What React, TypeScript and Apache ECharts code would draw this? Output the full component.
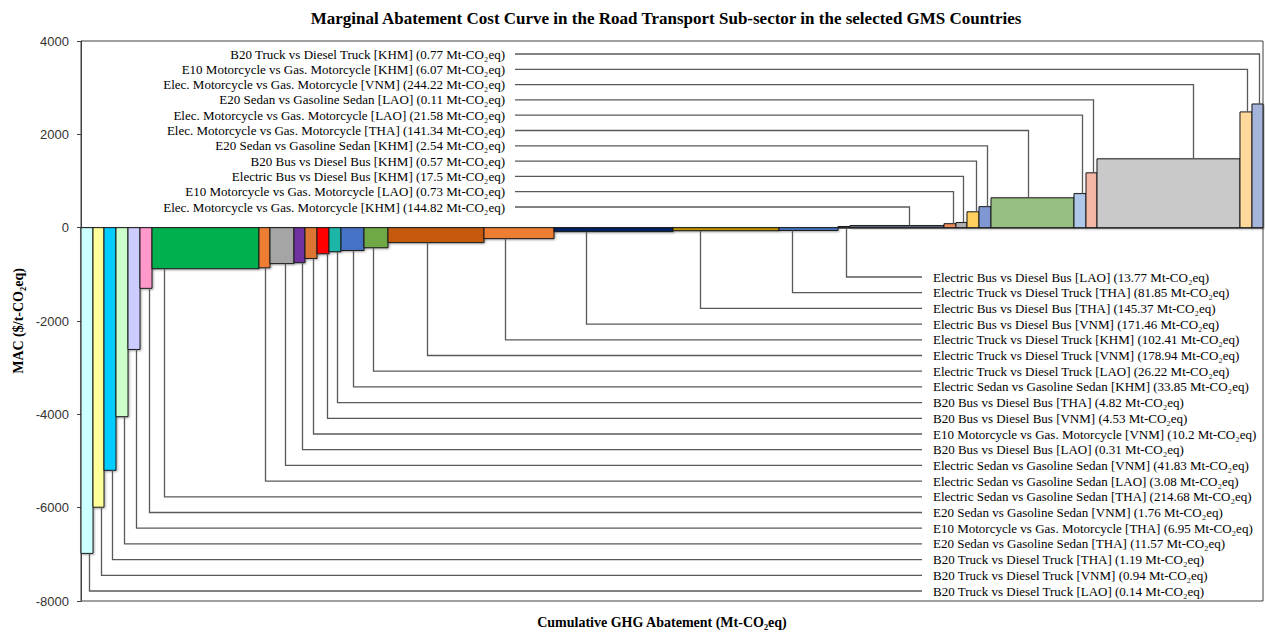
import React, { useEffect, useRef } from "react";
import * as echarts from "echarts";

// Abatement options, in the order they appear along the curve (left to right)
const optionNames = [
  "B20 Truck vs Diesel Truck [LAO]",
  "B20 Truck vs Diesel Truck [VNM]",
  "B20 Truck vs Diesel Truck [THA]",
  "E20 Sedan vs Gasoline Sedan [THA]",
  "E10 Motorcycle vs Gas. Motorcycle [THA]",
  "E20 Sedan vs Gasoline Sedan [VNM]",
  "Electric Sedan vs Gasoline Sedan [THA]",
  "Electric Sedan vs Gasoline Sedan [LAO]",
  "Electric Sedan vs Gasoline Sedan [VNM]",
  "B20 Bus vs Diesel Bus [LAO]",
  "E10 Motorcycle vs Gas. Motorcycle [VNM]",
  "B20 Bus vs Diesel Bus [VNM]",
  "B20 Bus vs Diesel Bus [THA]",
  "Electric Sedan vs Gasoline Sedan [KHM]",
  "Electric Truck vs Diesel Truck [LAO]",
  "Electric Truck vs Diesel Truck [VNM]",
  "Electric Truck vs Diesel Truck [KHM]",
  "Electric Bus vs Diesel Bus [VNM]",
  "Electric Bus vs Diesel Bus [THA]",
  "Electric Truck vs Diesel Truck [THA]",
  "Electric Bus vs Diesel Bus [LAO]",
  "Elec. Motorcycle vs Gas. Motorcycle [KHM]",
  "E10 Motorcycle vs Gas. Motorcycle [LAO]",
  "Electric Bus vs Diesel Bus [KHM]",
  "B20 Bus vs Diesel Bus [KHM]",
  "E20 Sedan vs Gasoline Sedan [KHM]",
  "Elec. Motorcycle vs Gas. Motorcycle [THA]",
  "Elec. Motorcycle vs Gas. Motorcycle [LAO]",
  "E20 Sedan vs Gasoline Sedan [LAO]",
  "Elec. Motorcycle vs Gas. Motorcycle [VNM]",
  "E10 Motorcycle vs Gas. Motorcycle [KHM]",
  "B20 Truck vs Diesel Truck [KHM]",
];

// Abatement potential printed in each label (Mt-CO2eq)
const abatementMt = [
  0.14, 0.94, 1.19, 11.57, 6.95, 1.76, 214.68, 3.08, 41.83, 0.31, 10.2, 4.53,
  4.82, 33.85, 26.22, 178.94, 102.41, 171.46, 145.37, 81.85, 13.77, 144.82,
  0.73, 17.5, 0.57, 2.54, 141.34, 21.58, 0.11, 244.22, 6.07, 0.77,
];

// Bar extent along the (unlabelled) cumulative abatement axis, as drawn
const plottedAbatement = [
  12, 11, 12, 12, 12, 12, 107, 11, 24, 11, 12, 12, 12, 23, 24, 96, 70, 119,
  106, 59, 12, 94, 12, 11, 12, 12, 83, 12, 11, 143, 12, 11,
];

// Marginal abatement cost ($/t-CO2eq)
const macValues = [
  -6980, -5990, -5200, -4050, -2610, -1300, -880, -860, -770, -750, -660,
  -560, -515, -490, -430, -320, -235, -85, -65, -60, 25, 45, 85, 110, 340,
  450, 640, 730, 1175, 1475, 2480, 2650,
];

const yTicks = [-8000, -6000, -4000, -2000, 0, 2000, 4000];

const barColors = [
  "#CCFFFF", "#FFFF99", "#00CCFF", "#CCFFCC", "#CCCCFF", "#FF99CC", "#00B050",
  "#ED7D31", "#A5A5A5", "#7030A0", "#DD7630", "#FF0000", "#1BB5A8", "#4472C4",
  "#70A845", "#C55A11", "#ED7D31", "#002060", "#BF9000", "#4472C4", "#8C8C8C",
  "#5B6B80", "#ED8B5B", "#B0B0B0", "#FFD060", "#7F98D3", "#97BF82", "#AFC7E8",
  "#F4B8A6", "#C9C9C9", "#FFD89B", "#A4B4DA",
];

// Where along each bar (fraction of its width) the leader line attaches
const leaderAnchor = [
  0.67, 0.73, 0.67, 0.67, 0.67, 0.75, 0.11, 0.55, 0.63, 0.73, 0.67, 0.83,
  0.67, 0.52, 0.38, 0.41, 0.3, 0.27, 0.25, 0.22, 0.67, 0.63, 0.75, 0.64,
  0.75, 0.67, 0.45, 0.67, 0.64, 0.67, 0.58, 0.64,
];

const BOTTOM_LABELS = 21; // first 21 options are labelled below the curve
const SERIF = '"Liberation Serif", "Times New Roman", serif';

export default function App() {
  const ref = useRef<HTMLDivElement>(null);

  useEffect(() => {
    if (!ref.current) return;
    const chart = echarts.init(ref.current, null, { renderer: "svg" });

    let cum = 0;
    const data = plottedAbatement.map((w, i) => {
      const start = cum;
      cum += w;
      return [start, cum, macValues[i], i];
    });
    const total = cum;

    const renderItem = (params: any, api: any) => {
      const i = api.value(3);
      const start = api.value(0);
      const end = api.value(1);
      const v = api.value(2);
      const p0 = api.coord([start, 0]);
      const p1 = api.coord([end, v]);
      const cs = params.coordSys;
      const x = p0[0];
      const w = p1[0] - p0[0];
      const yTop = Math.min(p0[1], p1[1]);
      const yBot = Math.max(p0[1], p1[1]);
      const cx = Math.round(x + w * leaderAnchor[i]) + 0.5;
      const label = `${optionNames[i]} (${abatementMt[i]} Mt-CO\u2082eq)`;
      const children: any[] = [
        {
          type: "rect",
          shape: { x, y: yTop, width: w, height: Math.max(yBot - yTop, 1) },
          style: {
            fill: barColors[i],
            stroke: "#1a1a1a",
            lineWidth: 1,
            shadowColor: "rgba(0,0,0,0.35)",
            shadowBlur: 2,
            shadowOffsetX: 1,
            shadowOffsetY: 1,
          },
        },
      ];
      const font = `13px ${SERIF}`;
      if (i < BOTTOM_LABELS) {
        const row = BOTTOM_LABELS - 1 - i;
        const ly = cs.y + cs.height - 10 - (BOTTOM_LABELS - 1 - row) * 15.7;
        const lineEnd = cs.x + 841;
        children.push({
          type: "polyline",
          shape: { points: [[cx, yBot], [cx, ly], [lineEnd, ly]] },
          style: { stroke: "#595959", lineWidth: 1.3, fill: null },
        });
        children.push({
          type: "text",
          style: {
            text: label,
            x: cs.x + 852,
            y: ly,
            align: "left",
            verticalAlign: "middle",
            textAlign: "left",
            textVerticalAlign: "middle",
            font,
            fill: "#000",
          },
        });
      } else {
        const row = optionNames.length - 1 - i;
        const ly = cs.y + 13 + row * 15.3;
        const lineStart = cs.x + 434;
        children.push({
          type: "polyline",
          shape: { points: [[lineStart, ly], [cx, ly], [cx, yTop]] },
          style: { stroke: "#595959", lineWidth: 1.3, fill: null },
        });
        children.push({
          type: "text",
          style: {
            text: label,
            x: cs.x + 424,
            y: ly,
            align: "right",
            verticalAlign: "middle",
            textAlign: "right",
            textVerticalAlign: "middle",
            font,
            fill: "#000",
          },
        });
      }
      return { type: "group", children };
    };

    chart.setOption({
      animation: false,
      grid: {
        left: 81,
        width: 1182,
        top: 41,
        height: 560,
        show: true,
        borderColor: "#404040",
        borderWidth: 1,
        backgroundColor: "transparent",
      },
      graphic: [
        {
          type: "text",
          x: 666,
          y: 18,
          style: {
            text: "Marginal Abatement Cost Curve in the Road Transport Sub-sector in the selected GMS Countries",
            align: "center",
            verticalAlign: "middle",
            font: `bold 17px ${SERIF}`,
            fill: "#000",
          },
        },
        {
          type: "text",
          x: 662,
          y: 622,
          style: {
            text: "Cumulative GHG Abatement (Mt-CO\u2082eq)",
            align: "center",
            verticalAlign: "middle",
            font: `bold 14px ${SERIF}`,
            fill: "#000",
          },
        },
        {
          type: "text",
          x: 18,
          y: 321,
          rotation: Math.PI / 2,
          style: {
            text: "MAC ($/t-CO\u2082eq)",
            align: "center",
            verticalAlign: "middle",
            font: `bold 14px ${SERIF}`,
            fill: "#000",
          },
        },
      ],
      xAxis: {
        type: "value",
        min: 0,
        max: total,
        axisLine: { show: true, onZero: true, lineStyle: { color: "#6e6e6e", width: 1.5 } },
        axisTick: { show: false },
        axisLabel: { show: false },
        splitLine: { show: false },
      },
      yAxis: {
        type: "value",
        min: yTicks[0],
        max: yTicks[yTicks.length - 1],
        interval: 2000,
        axisLine: { show: true, lineStyle: { color: "#404040", width: 1 } },
        axisTick: { show: true, inside: false, length: 4, lineStyle: { color: "#404040" } },
        axisLabel: {
          fontFamily: '"Liberation Sans", Arial, sans-serif',
          fontSize: 13,
          color: "#333",
          margin: 12,
          formatter: (val: number) => String(val),
        },
        splitLine: { show: false },
      },
      series: [
        {
          type: "custom",
          renderItem,
          data,
          encode: { x: [0, 1], y: 2 },
          clip: false,
          silent: true,
        },
      ],
    });

    return () => chart.dispose();
  }, []);

  return (
    <div
      ref={ref}
      style={{ position: "fixed", left: 0, top: 0, width: 1265, height: 633, background: "#fff" }}
    />
  );
}
